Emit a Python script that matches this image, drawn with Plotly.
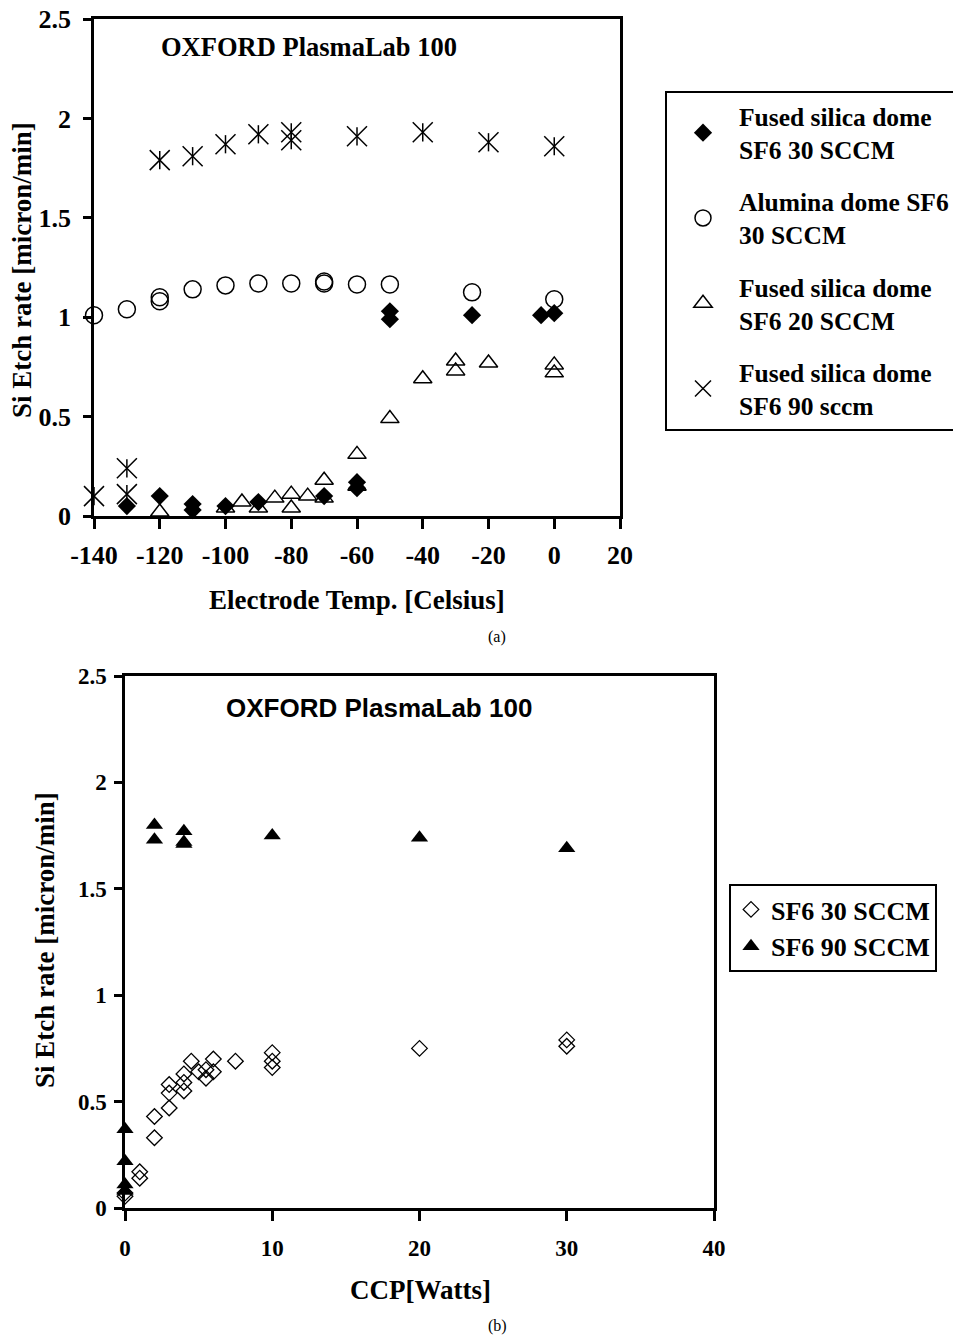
import plotly.graph_objects as go

# ---------------- Data: panel (a) ----------------
fs30_x = [-130, -120, -110, -110, -100, -90, -70, -60, -60, -50, -50, -25, -4, 0]
fs30_y = [0.05, 0.10, 0.06, 0.03, 0.05, 0.07, 0.10, 0.17, 0.14, 1.03, 0.99, 1.01, 1.01, 1.02]

al_x = [-140, -130, -120, -120, -110, -100, -90, -80, -70, -70, -60, -50, -25, 0]
al_y = [1.01, 1.04, 1.10, 1.08, 1.14, 1.16, 1.17, 1.17, 1.18, 1.17, 1.165, 1.165, 1.125, 1.09]

fs20_x = [-120, -100, -95, -90, -85, -80, -80, -75, -70, -70, -60, -60, -50, -40, -30, -30, -20, 0, 0]
fs20_y = [0.02, 0.04, 0.07, 0.04, 0.09, 0.11, 0.04, 0.10, 0.18, 0.09, 0.31, 0.15, 0.49, 0.69, 0.78, 0.73, 0.77, 0.76, 0.72]

fs90_x = [-140, -130, -130, -120, -110, -100, -90, -80, -80, -60, -40, -20, 0]
fs90_y = [0.10, 0.24, 0.11, 1.79, 1.81, 1.87, 1.92, 1.93, 1.89, 1.91, 1.93, 1.88, 1.86]

xticks_a = [-140, -120, -100, -80, -60, -40, -20, 0, 20]
xlabels_a = ["-140", "-120", "-100", "-80", "-60", "-40", "-20", "0", "20"]
yticks = [0, 0.5, 1, 1.5, 2, 2.5]
ylabels = ["0", "0.5", "1", "1.5", "2", "2.5"]

names_a = ["Fused silica dome<br>SF6 30 SCCM", "Alumina dome SF6<br>30 SCCM",
           "Fused silica dome<br>SF6 20 SCCM", "Fused silica dome<br>SF6 90 sccm"]

# ---------------- Data: panel (b) ----------------
sf30_x = [0, 0, 1, 1, 2, 2, 3, 3, 3, 4, 4, 4, 4.5, 5, 5.5, 5.5, 6, 6, 7.5, 10, 10, 10, 20, 30, 30]
sf30_y = [0.07, 0.055, 0.17, 0.14, 0.43, 0.33, 0.58, 0.54, 0.47, 0.63, 0.59, 0.55, 0.69, 0.64,
          0.65, 0.61, 0.70, 0.64, 0.69, 0.73, 0.69, 0.66, 0.75, 0.79, 0.76]

sf90_x = [0, 0, 0, 0, 2, 2, 4, 4, 4, 10, 20, 30]
sf90_y = [0.37, 0.22, 0.11, 0.08, 1.80, 1.73, 1.77, 1.72, 1.71, 1.75, 1.74, 1.69]

xticks_b = [0, 10, 20, 30, 40]
xlabels_b = ["0", "10", "20", "30", "40"]
names_b = ["SF6 30 SCCM", "SF6 90 SCCM"]

W, H = 953, 1336
SERIF = "Liberation Serif, Times New Roman, serif"
SANS = "Liberation Sans, Arial, sans-serif"

def px(x):
    return x / W

def py(y):
    return 1 - y / H

fig = go.Figure()

# panel (a)
fig.add_trace(go.Scatter(x=fs30_x, y=fs30_y, mode="markers", name=names_a[0], legendgroup="a1",
                         marker=dict(symbol="diamond", size=14, color="black", line=dict(width=0)),
                         cliponaxis=False, xaxis="x", yaxis="y", legend="legend"))
fig.add_trace(go.Scatter(x=al_x, y=al_y, mode="markers", name=names_a[1], legendgroup="a2",
                         marker=dict(symbol="circle-open", size=17, color="black", line=dict(width=1.5)),
                         cliponaxis=False, xaxis="x", yaxis="y", legend="legend"))
fig.add_trace(go.Scatter(x=fs20_x, y=fs20_y, mode="markers", name=names_a[2], legendgroup="a3",
                         marker=dict(symbol="triangle-up-open", size=16, color="black", line=dict(width=1.5)),
                         cliponaxis=False, xaxis="x", yaxis="y", legend="legend"))
fig.add_trace(go.Scatter(x=fs90_x, y=fs90_y, mode="markers", name=names_a[3], legendgroup="a4",
                         marker=dict(symbol="x-thin-open", size=20, color="black", line=dict(width=1.5)),
                         cliponaxis=False, xaxis="x", yaxis="y", legend="legend"))
fig.add_trace(go.Scatter(x=fs90_x, y=fs90_y, mode="markers", name=names_a[3], legendgroup="a4",
                         showlegend=False,
                         marker=dict(symbol="line-ns-open", size=13, color="black", line=dict(width=1.5)),
                         cliponaxis=False, xaxis="x", yaxis="y"))

# panel (b)
fig.add_trace(go.Scatter(x=sf30_x, y=sf30_y, mode="markers", name=names_b[0], legendgroup="b1",
                         marker=dict(symbol="diamond-open", size=12, color="black", line=dict(width=1.3)),
                         cliponaxis=False, xaxis="x2", yaxis="y2", legend="legend2"))
fig.add_trace(go.Scatter(x=sf90_x, y=sf90_y, mode="markers", name=names_b[1], legendgroup="b2",
                         marker=dict(symbol="triangle-up", size=15, color="black", line=dict(width=0)),
                         cliponaxis=False, xaxis="x2", yaxis="y2", legend="legend2"))

axis_common = dict(showgrid=False, zeroline=False, showline=True, linecolor="black", linewidth=2.5,
                   mirror=True, ticks="outside", tickcolor="black", tickwidth=2.5,
                   ticklabeloverflow="allow")

tick_a = dict(family=SERIF, size=26, color="black", weight="bold")
tick_b = dict(family=SERIF, size=23, color="black", weight="bold")

fig.update_layout(
    width=W, height=H,
    margin=dict(l=0, r=0, t=0, b=0, autoexpand=False),
    paper_bgcolor="white", plot_bgcolor="white",
    xaxis=dict(domain=[px(94), px(620)], range=[-140, 20], tickvals=xticks_a, ticktext=xlabels_a,
               ticklen=10, tickfont=tick_a, ticklabelstandoff=4, anchor="y", **axis_common),
    yaxis=dict(domain=[py(516), py(19)], range=[0, 2.5], tickvals=yticks, ticktext=ylabels,
               ticklen=8, tickfont=tick_a, ticklabelstandoff=7, anchor="x", **axis_common),
    xaxis2=dict(domain=[px(125), px(714)], range=[0, 40], tickvals=xticks_b, ticktext=xlabels_b,
                ticklen=10, tickfont=tick_b, ticklabelstandoff=8, anchor="y2", **axis_common),
    yaxis2=dict(domain=[py(1208), py(676)], range=[0, 2.5], tickvals=yticks, ticktext=ylabels,
                ticklen=8, tickfont=tick_b, ticklabelstandoff=3, anchor="x2", **axis_common),
    legend=dict(x=px(665), y=py(91), xanchor="left", yanchor="top", bgcolor="white",
                bordercolor="black", borderwidth=2, itemwidth=62, tracegroupgap=16,
                font=dict(family=SERIF, size=25.5, color="black", weight="bold")),
    legend2=dict(x=px(729), y=py(884), xanchor="left", yanchor="top", bgcolor="white",
                 bordercolor="black", borderwidth=2, itemwidth=30, tracegroupgap=0,
                 font=dict(family=SERIF, size=26, color="black", weight="bold")),
    showlegend=True,
)

def ann(text, x, y, font, angle=0):
    fig.add_annotation(text=text, x=px(x), y=py(y), xref="paper", yref="paper",
                       xanchor="center", yanchor="middle", showarrow=False, textangle=angle, font=font)

title_font = dict(family=SERIF, size=27, color="black", weight="bold")
ann("OXFORD PlasmaLab 100", 309, 47, dict(family=SERIF, size=26.5, color="black", weight="bold"))
ann("Si Etch rate [micron/min]", 22, 270, title_font, -90)
ann("Electrode Temp. [Celsius]", 357, 600, title_font)
ann("(a)", 497, 637, dict(family=SERIF, size=16, color="black"))

ann("OXFORD PlasmaLab 100", 379, 708, dict(family=SANS, size=26, color="black", weight="bold"))
ann("Si Etch rate [micron/min]", 45, 940, title_font, -90)
ann("CCP[Watts]", 420, 1290, title_font)
ann("(b)", 497, 1326, dict(family=SERIF, size=16, color="black"))

# remove the browser's default 8px body margin so the 953x1336 figure fills the window
fig.write_html("out.html", config={"displayModeBar": False},
               post_script="document.body.style.margin='0';document.body.style.overflow='hidden';")
